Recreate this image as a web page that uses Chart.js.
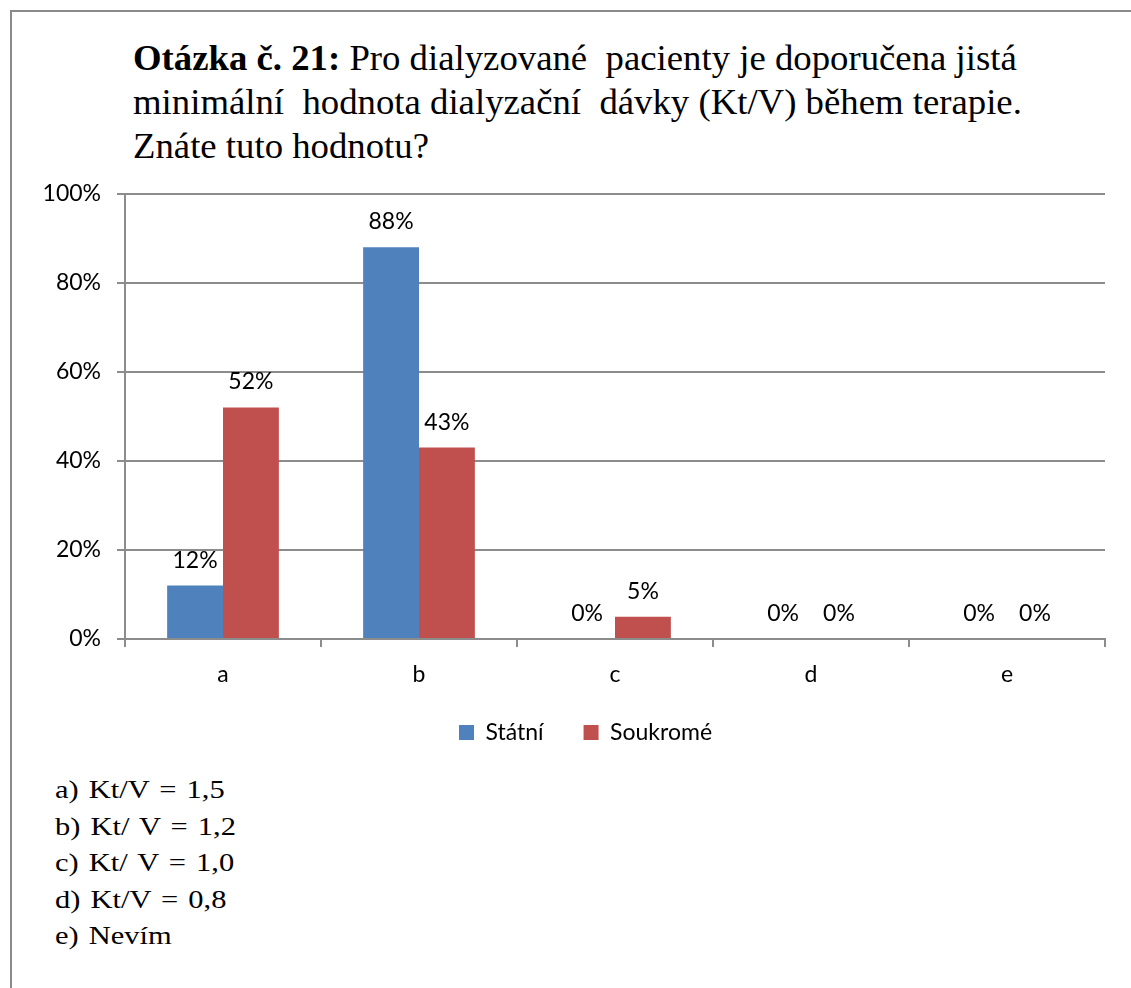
<!DOCTYPE html>
<html>
<head>
<meta charset="utf-8">
<script src="https://cdn.jsdelivr.net/npm/chart.js@4"></script>
<style>
  html, body { margin: 0; padding: 0; background: #fff; }
  body { width: 1131px; height: 988px; position: relative; overflow: hidden; }
  .frame {
    position: absolute; left: 10px; top: 10px; width: 1200px; height: 1000px;
    border: 2px solid #8a8a8a;
  }
  .title {
    position: absolute; left: 133px; top: 37px;
    font-family: "Liberation Serif", "Times New Roman", serif;
    font-size: 35px; line-height: 44px; color: #000; white-space: pre;
    transform: scaleX(1.05); transform-origin: left top;
  }
  .answers {
    position: absolute; left: 55px; top: 772px;
    font-family: "Liberation Serif", "Times New Roman", serif;
    font-size: 25px; line-height: 36.5px; color: #000; white-space: pre;
    word-spacing: 2px;
    transform: scaleX(1.22); transform-origin: left top;
  }
  .chart-box { position: absolute; left: 0; top: 164px; width: 1131px; height: 604px; }
</style>
</head>
<body>
<div class="frame"></div>
<div class="title"><b>Otázka č. 21:</b> Pro dialyzované  pacienty je doporučena jistá
minimální  hodnota dialyzační  dávky (Kt/V) během terapie.
Znáte tuto hodnotu?</div>
<div class="chart-box"><canvas id="chart"></canvas></div>
<div class="answers">a) Kt/V = 1,5
b) Kt/ V = 1,2
c) Kt/ V = 1,0
d) Kt/V = 0,8
e) Nevím</div>

<script>
const categories = ['a', 'b', 'c', 'd', 'e']
const statni = [12, 88, 0, 0, 0]
const soukrome = [52, 43, 5, 0, 0]
const yTicks = [0, 20, 40, 60, 80, 100]

const gridGray = '#8c8c8c'
const sans = 'Lato, "Open Sans", sans-serif'

// prints the percentage above every bar, zeros included
const valueLabels = {
  id: 'valueLabels',
  afterDatasetsDraw(chart) {
    const ctx = chart.ctx
    ctx.save()
    ctx.font = '23px ' + sans
    ctx.fillStyle = '#000'
    ctx.textAlign = 'center'
    ctx.textBaseline = 'alphabetic'
    chart.data.datasets.forEach((ds, i) => {
      chart.getDatasetMeta(i).data.forEach((bar, j) => {
        ctx.fillText(ds.data[j] + '%', bar.x, bar.y - 18)
      })
    })
    ctx.restore()
  }
}

// move the legend a little right and up from where the layout puts it
const legendShift = {
  id: 'legendShift',
  afterLayout(chart) {
    if (!chart.legend) return
    chart.legend.left += 26
    chart.legend.top -= 14
  }
}

new Chart(document.getElementById('chart'), {
  type: 'bar',
  data: {
    labels: categories,
    datasets: [
      { label: 'Státní', data: statni, backgroundColor: '#4F81BD' },
      { label: 'Soukromé', data: soukrome, backgroundColor: '#C0504D' }
    ]
  },
  options: {
    responsive: true,
    maintainAspectRatio: false,
    animation: false,
    layout: { padding: { top: 0, left: 40, right: 26, bottom: 0 } },
    datasets: { bar: { categoryPercentage: 0.57, barPercentage: 1 } },
    scales: {
      x: {
        grid: { offset: true, drawOnChartArea: false, color: gridGray, lineWidth: 2, tickLength: 8 },
        border: { color: gridGray, width: 2 },
        ticks: { color: '#000', font: { family: sans, size: 23 }, padding: 14 },
        afterFit(scale) { scale.height = 56 }
      },
      y: {
        min: 0,
        max: 100,
        afterBuildTicks(scale) { scale.ticks = yTicks.map(v => ({ value: v })) },
        grid: { color: gridGray, lineWidth: 2, tickLength: 8 },
        border: { color: gridGray, width: 2 },
        ticks: { color: '#000', font: { family: sans, size: 23 }, padding: 16, callback: v => v + '%' },
        afterFit(scale) { scale.width = 85 }
      }
    },
    plugins: {
      legend: {
        position: 'bottom',
        labels: { color: '#000', font: { family: sans, size: 23 }, boxWidth: 15, boxHeight: 15, padding: 40 }
      },
      tooltip: { enabled: false }
    }
  },
  plugins: [valueLabels, legendShift]
})
</script>
</body>
</html>
